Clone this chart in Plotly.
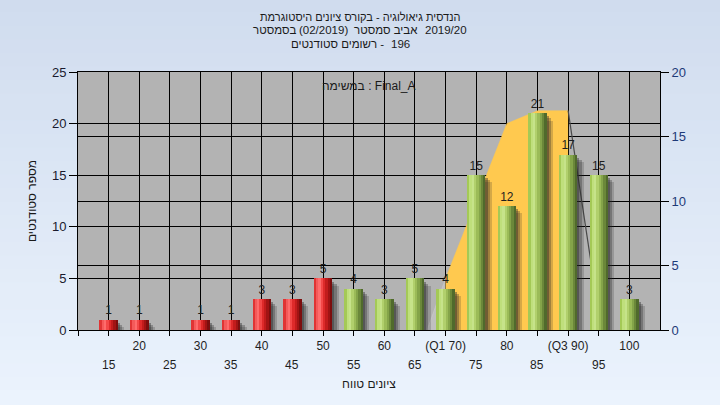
import plotly.graph_objects as go

# ---------------- data ----------------
categories = [15, 20, 25, 30, 35, 40, 45, 50, 55, 60, 65, 70, 75, 80, 85, 90, 95, 100]
counts = [1, 1, 0, 1, 1, 3, 3, 5, 4, 3, 5, 4, 15, 12, 21, 17, 15, 3]
tick_labels = ["15", "20", "25", "30", "35", "40", "45", "50", "55", "60",
               "65", "(Q1 70)", "75", "80", "85", "(Q3 90)", "95", "100"]
pass_threshold = 55

# inter-quartile band (right axis units)
iqr_x = [70, 75, 80, 85, 90]
iqr_y = [4, 10, 16, 17, 17]
tail_left_x = [67, 70]
tail_left_y = [0, 4]
tail_right_x = [90, 95.4]
tail_right_y = [17, 0]

# texts (logical order chosen so the browser bidi shows the reference's visual order)
title_line1 = "הנדסית גיאולוגיה - בקורס ציונים היסטוגרמת"
title_line2_parts = ["בסמסטר", "(02/2019)", "אביב סמסטר", "2019/20"]
title_line3_parts = ["רשומים סטודנטים -", "196"]
task_label = "במשימה : Final_A"
x_title = "ציונים טווח"
y_title = "מספר סטודנטים"

Y_MAX = 25
Y2_MAX = 20

# ---------------- layout constants ----------------
W, H = 720, 405
ML, MR, MT, MB = 78, 60, 72, 75
plot_h = H - MT - MB
plot_w = W - ML - MR


def py(p):
    return (H - MB - p) / plot_h


def px(p):
    return (p - ML) / plot_w


FONT = "Liberation Sans, DejaVu Sans Condensed, DejaVu Sans, Arial, sans-serif"

red_shades = ["#e03434", "#f45a5a", "#ff6c6c", "#f34848", "#de2a2a", "#c21c1c", "#a11414", "#7c0e0e"]
green_shades = ["#a4c956", "#bfdf7c", "#c6e38a", "#b1d06c", "#9bbb58", "#84a449", "#6b883a", "#506a2c"]
bar_w = 3.0
n_strips = len(red_shades)
strip_w = bar_w / n_strips

fig = go.Figure()

# ---- main subplot (right axis, drawn underneath) ----
fig.add_trace(go.Scatter(
    x=tail_left_x, y=tail_left_y, mode="lines",
    line=dict(color="rgba(205,205,205,0.6)", width=1), fill="tozeroy",
    fillcolor="rgba(200,200,200,0.6)", hoverinfo="skip", yaxis="y"))

fig.add_trace(go.Scatter(
    x=iqr_x, y=iqr_y, mode="lines",
    line=dict(color="#ffc94f", width=0.5), fill="tozeroy",
    fillcolor="#ffc94f", hoverinfo="skip", yaxis="y"))

fig.add_trace(go.Scatter(
    x=tail_right_x, y=tail_right_y, mode="lines",
    line=dict(color="#4a4a4a", width=1.2), hoverinfo="skip", yaxis="y"))

# ---- overlay subplot (left axis): bars on top ----
for shift, alpha, drop in [(1.05, 0.2, 0.7), (0.7, 0.3, 0.5), (0.35, 0.4, 0.3)]:
    fig.add_trace(go.Bar(
        x=categories, y=[max(v - drop, 0) if v else 0 for v in counts],
        width=bar_w, offset=-bar_w / 2 + shift,
        marker=dict(color=f"rgba(40,40,40,{alpha})", line=dict(width=0)),
        hoverinfo="skip", yaxis="y2"))

for i in range(n_strips):
    colors = [red_shades[i] if c < pass_threshold else green_shades[i] for c in categories]
    fig.add_trace(go.Bar(
        x=categories, y=counts, width=strip_w * 1.04,
        offset=-bar_w / 2 + i * strip_w,
        marker=dict(color=colors, line=dict(width=0)),
        hoverinfo="skip", yaxis="y2"))

fig.add_trace(go.Scatter(
    x=categories, y=counts, mode="markers+text",
    marker=dict(size=2, opacity=0),
    text=[str(v) if v else "" for v in counts],
    textposition="top center",
    textfont=dict(family=FONT, size=12, color="#1e1e1e"),
    hoverinfo="skip", yaxis="y2"))

# upper row of tick labels on the axis, lower row as annotations
tick_text = [""] + [t if i % 2 else "" for i, t in enumerate(tick_labels)]

# background gradient bands
shapes = []
n_bands = 30
top_c = (208, 220, 238)
bot_c = (235, 243, 253)
for k in range(n_bands):
    f = k / (n_bands - 1)
    c = tuple(round(top_c[j] + (bot_c[j] - top_c[j]) * f) for j in range(3))
    p0 = H * k / n_bands - 1
    p1 = H * (k + 1) / n_bands + 1
    shapes.append(dict(type="rect", xref="paper", yref="paper",
                       x0=px(0), x1=px(W), y0=py(p1), y1=py(p0),
                       fillcolor=f"rgb{c}", line=dict(width=0), layer="below"))
shapes.append(dict(type="rect", xref="paper", yref="paper", x0=0, x1=1, y0=0, y1=1,
                   fillcolor="#b3b3b3", line=dict(width=0), layer="below"))

tfont = dict(family=FONT, size=11.5, color="#1a1a1a")
annotations = []


def add_text(text, xp, yp, anchor="center", font=tfont):
    annotations.append(dict(text=text, xref="paper", yref="paper",
                            x=px(xp), y=py(yp), showarrow=False,
                            xanchor=anchor, yanchor="middle", font=font))


add_text(title_line1, 360, 17, font=dict(family=FONT, size=11, color="#1a1a1a"))
for part, xp in zip(title_line2_parts, [275, 323, 386, 446]):
    add_text(part, xp, 30.5)
for part, xp, anchor in zip(title_line3_parts, [386, 389], ["right", "left"]):
    add_text(part, xp, 44, anchor)
add_text(task_label, 369, 86, font=dict(family=FONT, size=12, color="#1a1a1a"))

for i, (c, t) in enumerate(zip(categories, tick_labels)):
    if i % 2 == 0:
        annotations.append(dict(text=t, xref="x", yref="paper", x=c, y=py(365),
                                showarrow=False, xanchor="center", yanchor="middle",
                                font=dict(family=FONT, size=12, color="#1e1e1e")))

fig.update_layout(
    width=W, height=H,
    margin=dict(l=ML, r=MR, t=MT, b=MB, pad=0),
    paper_bgcolor="#dfe8f6",
    plot_bgcolor="#b3b3b3",
    barmode="overlay",
    bargap=0,
    showlegend=False,
    font=dict(family=FONT, size=12, color="#222"),
    shapes=shapes,
    annotations=annotations,
    xaxis=dict(
        range=[10, 105], tickmode="array",
        tickvals=[10] + categories, ticktext=tick_text, tickangle=0,
        ticks="outside", ticklen=5, tickcolor="black", tickwidth=1,
        showgrid=True, gridcolor="black", gridwidth=1,
        showline=True, linecolor="black", linewidth=1, mirror=True,
        zeroline=False,
        tickfont=dict(family=FONT, size=12, color="#1e1e1e"),
        title=dict(text=x_title, standoff=27,
                   font=dict(family=FONT, size=12, color="#1a1a1a")),
    ),
    yaxis=dict(
        range=[0, Y2_MAX], dtick=5, tick0=0, side="right",
        ticks="outside", ticklen=8, tickcolor="black",
        showgrid=True, gridcolor="black", gridwidth=1,
        showline=True, linecolor="black", linewidth=1,
        zeroline=False,
        tickfont=dict(family=FONT, size=13, color="#1e3a78"),
    ),
    yaxis2=dict(
        range=[0, Y_MAX], dtick=5, tick0=0, side="left", overlaying="y",
        ticks="outside", ticklen=8, tickcolor="black",
        showgrid=True, gridcolor="black", gridwidth=1,
        showline=True, linecolor="black", linewidth=1,
        zeroline=False,
        tickfont=dict(family=FONT, size=13, color="#1a1a2e"),
        title=dict(text=y_title, standoff=12,
                   font=dict(family=FONT, size=12, color="#1a1a1a")),
    ),
)

fig.write_html("out.html", config={"displayModeBar": False},
               post_script="document.body.style.margin='0';document.body.style.overflow='hidden';")
